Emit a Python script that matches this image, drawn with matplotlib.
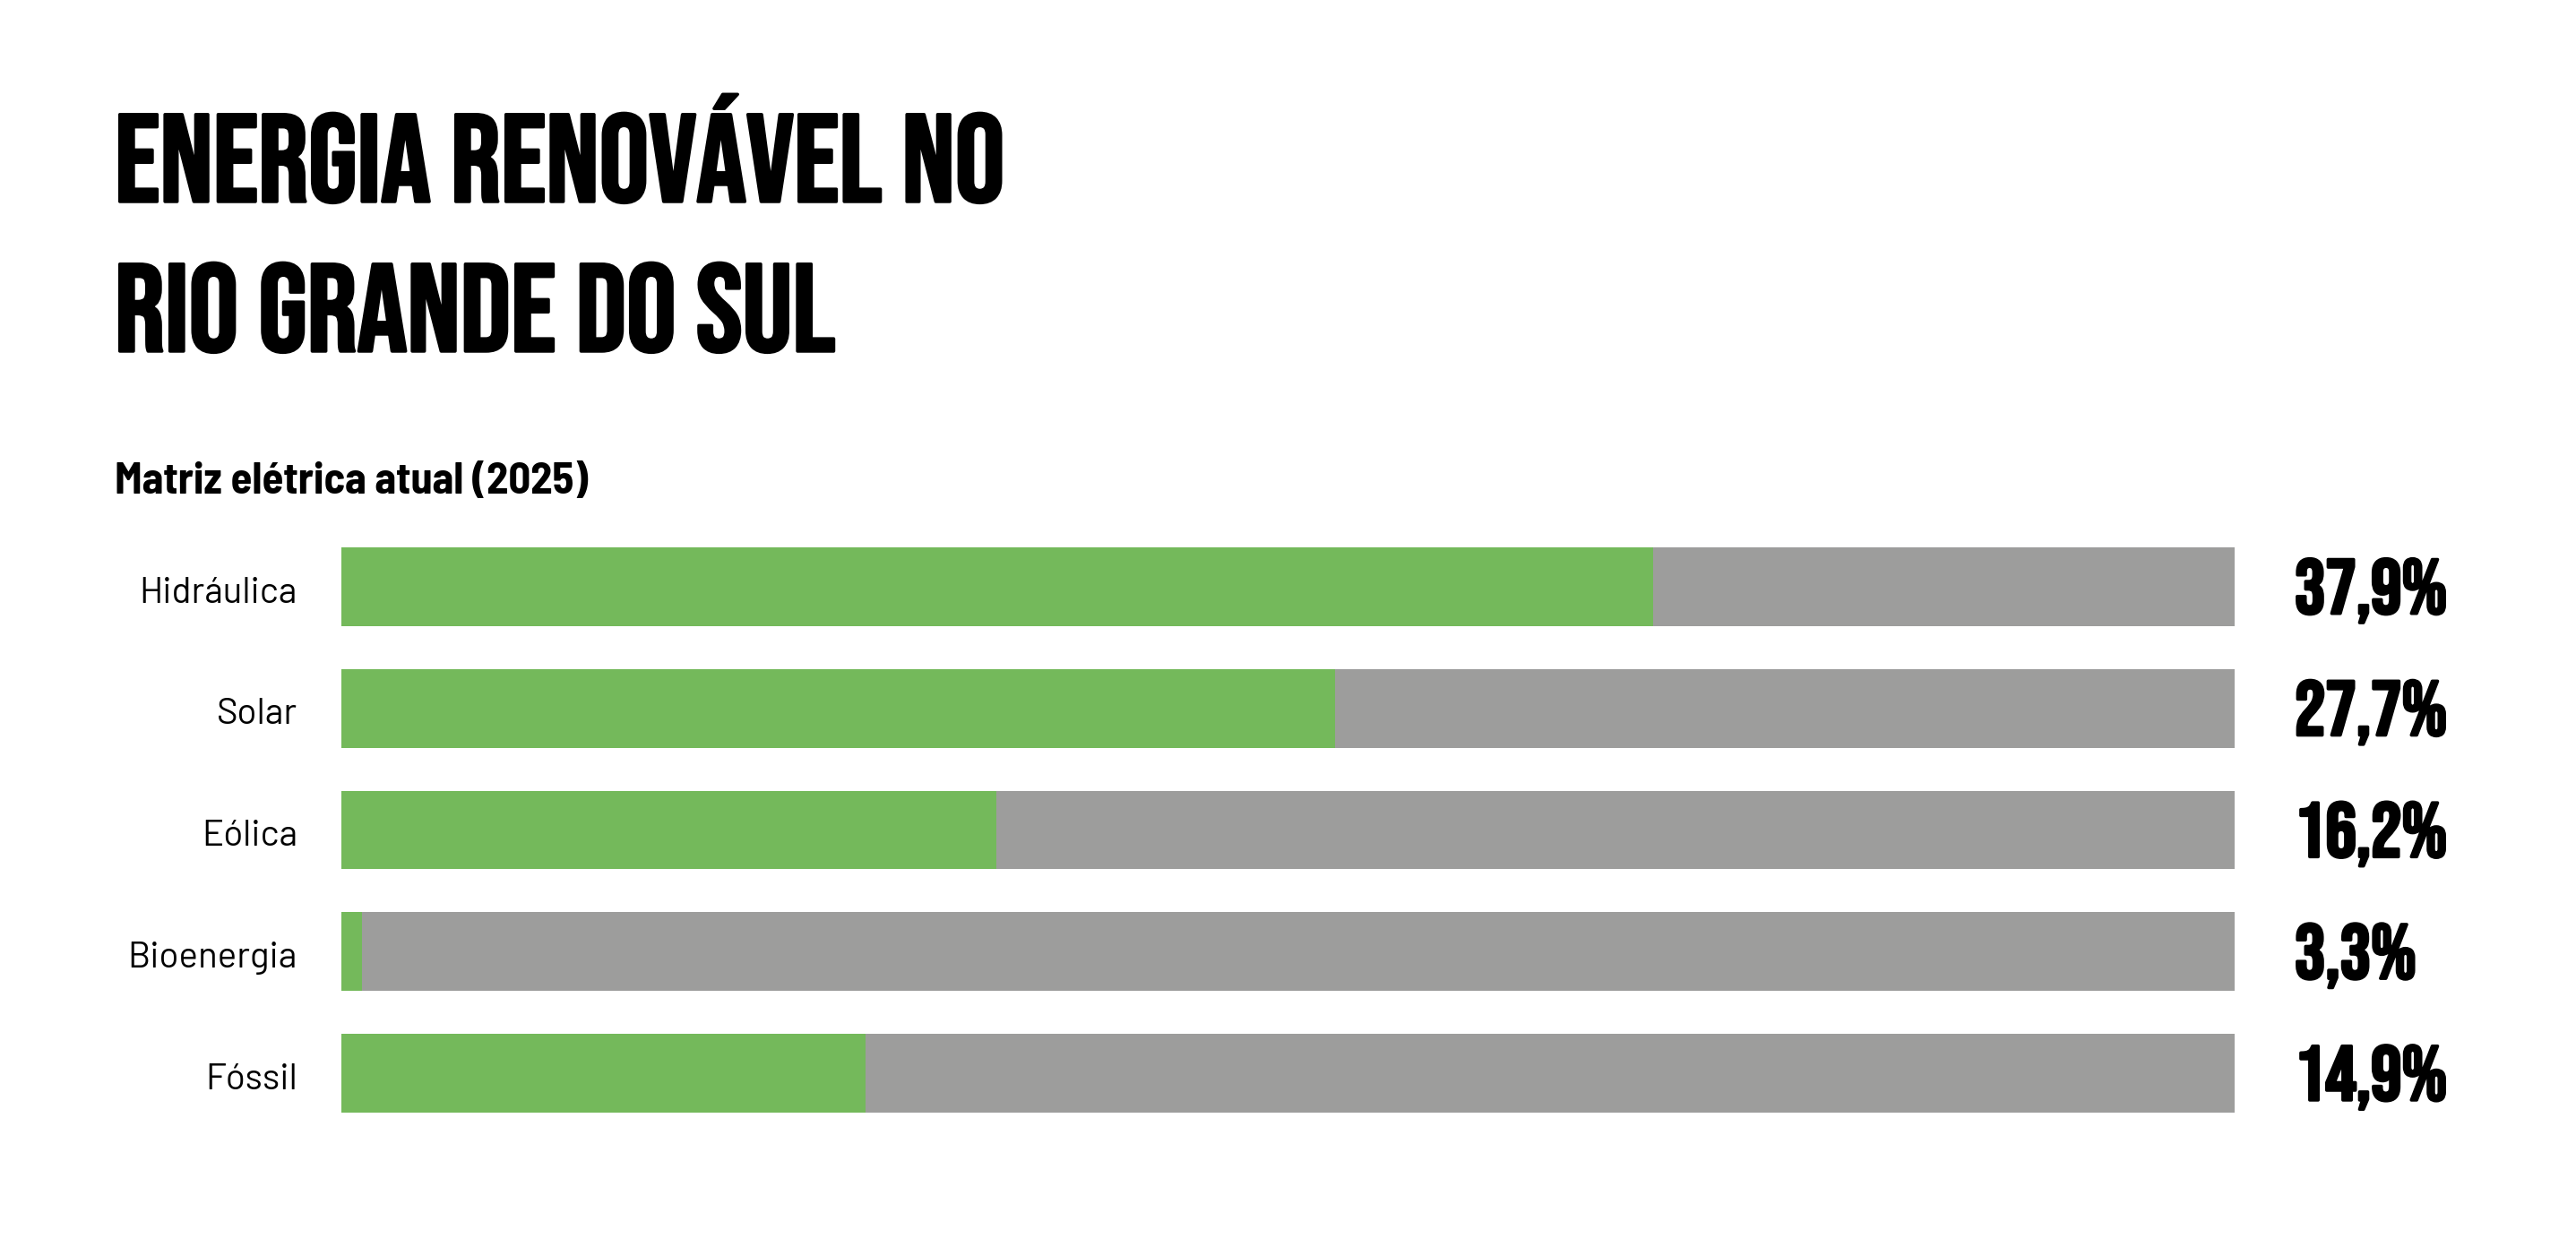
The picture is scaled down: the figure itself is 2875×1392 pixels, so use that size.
import numpy as np
import matplotlib
matplotlib.use("Agg")
import matplotlib.pyplot as plt
import matplotlib.transforms as mtransforms
import matplotlib.font_manager as fm
import matplotlib.patheffects as pe

categories = ["Hidráulica", "Solar", "Eólica", "Bioenergia", "Fóssil"]
values = [37.9, 27.7, 16.2, 3.3, 14.9]          # labels shown at the right
fill = [69.3, 52.5, 34.6, 1.1, 27.7]            # green length, % of the grey track

title_lines = ["ENERGIA RENOVÁVEL NO", "RIO GRANDE DO SUL"]
subtitle = "Matriz elétrica atual (2025)"

green = "#74b95b"
grey = "#9d9d9c"

names = {f.name for f in fm.fontManager.ttflist}

def pick(cands):
    for c in cands:
        if c in names:
            return c
    return "DejaVu Sans"

head_font = pick(["Bebas Neue", "League Gothic", "Oswald", "Roboto Condensed"])
sub_font = pick(["Barlow Semi Condensed", "Barlow Condensed", "Roboto Condensed"])
lab_font = pick(["Barlow", "Barlow Semi Condensed", "Roboto"])

# a thin outline in the text colour makes Bebas a bit heavier, like the original
heavy = [pe.withStroke(linewidth=2.5, foreground="black")]

W, H, dpi = 2875, 1392, 100
fig = plt.figure(figsize=(W / dpi, H / dpi), dpi=dpi)
fig.patch.set_facecolor("white")

# bar area in pixels: x 381..2494, rows centred at 655 + 136*i
ax = fig.add_axes([381 / W, 1 - 1266 / H, (2494 - 381) / W, (1266 - 587) / H])
y = np.arange(len(categories))
ax.barh(y, [100] * len(categories), height=0.647, color=grey)
ax.barh(y, fill, height=0.647, color=green)
ax.set_xlim(0, 100)
ax.set_ylim(len(categories) - 0.5, -0.5)
ax.axis("off")

tr = mtransforms.blended_transform_factory(fig.transFigure, ax.transData)
for i, (cat, v) in enumerate(zip(categories, values)):
    fig.text(332 / W, i + 0.13, cat, transform=tr, ha="right", va="baseline",
             fontsize=29, family=lab_font, fontweight="normal", color="black")
    fig.text(2561 / W, i + 0.22, f"{v:.1f}%".replace(".", ","), transform=tr,
             ha="left", va="baseline", fontsize=62, family=head_font,
             fontweight="bold", path_effects=heavy)

fig.text(128 / W, 1 - 225 / H, title_lines[0], ha="left", va="baseline",
         fontsize=100, family=head_font, fontweight="bold", path_effects=heavy)
fig.text(128 / W, 1 - 392 / H, title_lines[1], ha="left", va="baseline",
         fontsize=100, family=head_font, fontweight="bold", path_effects=heavy)
fig.text(128 / W, 1 - 551 / H, subtitle, ha="left", va="baseline",
         fontsize=35, family=sub_font, fontweight="bold")

fig.savefig("out.png", dpi=dpi, facecolor="white")
